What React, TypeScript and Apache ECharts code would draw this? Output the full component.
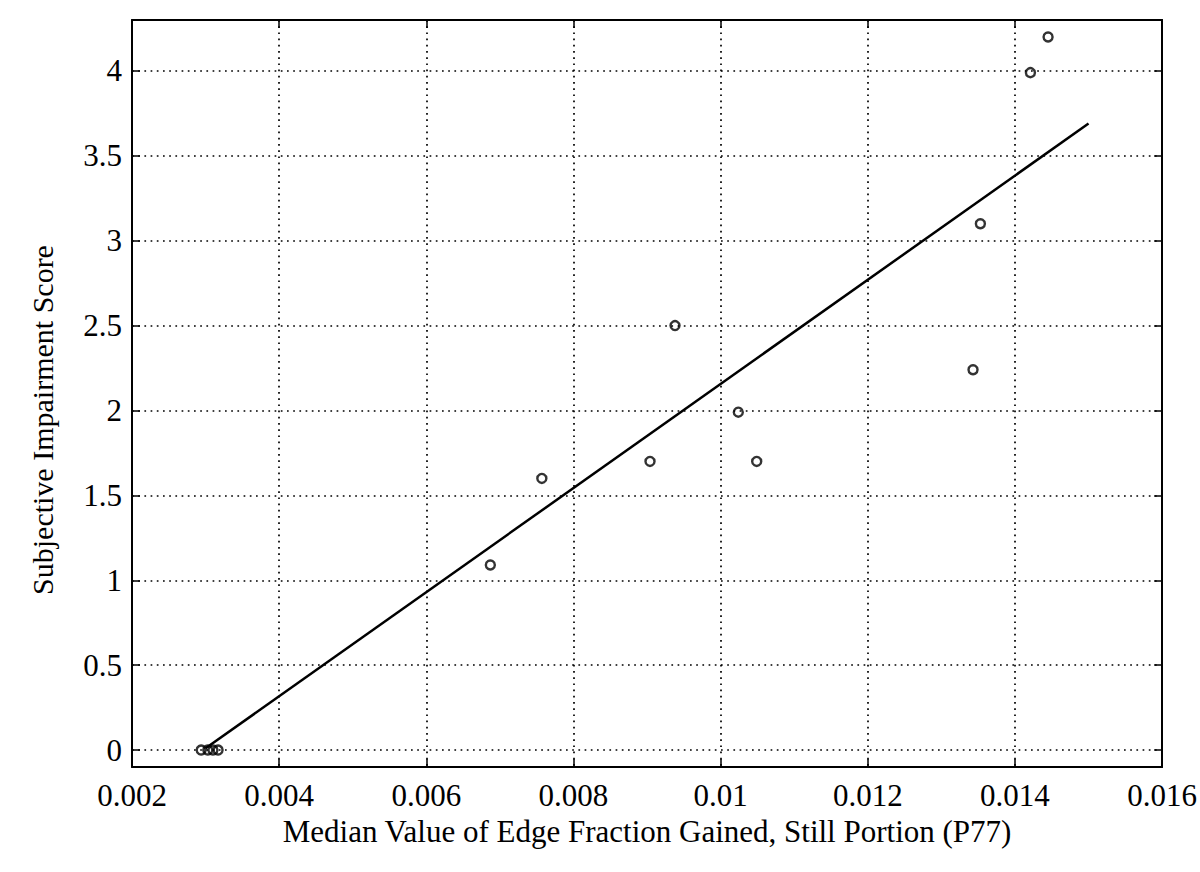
import React, { useEffect, useRef } from "react";
import * as echarts from "echarts";

const xTitle = "Median Value of Edge Fraction Gained, Still Portion (P77)";
const yTitle = "Subjective Impairment Score";

const pointX = [0.00294, 0.00303, 0.0031, 0.00317, 0.00687, 0.00757, 0.00904, 0.00938, 0.01024, 0.01049, 0.01343, 0.01353, 0.01421, 0.01445];
const pointY = [0, 0, 0, 0, 1.09, 1.6, 1.7, 2.5, 1.99, 1.7, 2.24, 3.1, 3.99, 4.2];

const fitX = [0.003, 0.015];
const fitY = [0.01, 3.69];

const xMin = 0.002;
const xMax = 0.016;
const xStep = 0.002;
const yMin = -0.1;
const yMax = 4.3;

const FONT = "'Liberation Serif', 'DejaVu Serif', serif";

export default function App() {
  const ref = useRef<HTMLDivElement>(null);
  useEffect(() => {
    if (!ref.current) return;
    const chart = echarts.init(ref.current, null, { renderer: "svg" });
    const black = "#000";
    const baseX = {
      type: "value",
      min: xMin,
      max: xMax,
      interval: xStep,
    };
    const baseY = {
      type: "value",
      min: yMin,
      max: yMax,
      splitNumber: 9,
    };
    chart.setOption({
      animation: false,
      backgroundColor: "#fff",
      grid: { left: 132, right: 33, top: 20, bottom: 105, containLabel: false },
      xAxis: [
        {
          ...baseX,
          position: "bottom",
          name: xTitle,
          nameLocation: "middle",
          nameGap: 45,
          nameTextStyle: { fontFamily: FONT, fontSize: 31, color: black },
          axisLine: { show: true, onZero: false, lineStyle: { color: black, width: 2 } },
          axisTick: { show: true, inside: true, length: 8, lineStyle: { color: black, width: 1.5 } },
          axisLabel: {
            show: true,
            margin: 13,
            fontFamily: FONT,
            fontSize: 31,
            color: black,
            formatter: (v: number) => String(parseFloat(v.toFixed(4))),
          },
          splitLine: { show: true, lineStyle: { color: black, width: 1.7, type: [1.7, 4.5] } },
        },
        {
          ...baseX,
          position: "top",
          axisLine: { show: true, onZero: false, lineStyle: { color: black, width: 2 } },
          axisTick: { show: true, inside: true, length: 8, lineStyle: { color: black, width: 1.5 } },
          axisLabel: { show: false },
          splitLine: { show: false },
        },
      ],
      yAxis: [
        {
          ...baseY,
          position: "left",
          axisLine: { show: true, onZero: false, lineStyle: { color: black, width: 2 } },
          axisTick: { show: true, inside: true, length: 8, lineStyle: { color: black, width: 1.5 } },
          axisLabel: {
            show: true,
            margin: 10,
            fontFamily: FONT,
            fontSize: 31,
            color: black,
            showMinLabel: false,
            showMaxLabel: false,
            formatter: (v: number) => String(parseFloat(v.toFixed(2))),
          },
          splitLine: { show: true, lineStyle: { color: black, width: 1.7, type: [1.7, 4.5] } },
        },
        {
          ...baseY,
          position: "right",
          axisLine: { show: true, onZero: false, lineStyle: { color: black, width: 2 } },
          axisTick: { show: true, inside: true, length: 8, lineStyle: { color: black, width: 1.5 } },
          axisLabel: { show: false },
          splitLine: { show: false },
        },
      ],
      graphic: [
        {
          type: "text",
          x: 42,
          y: 420,
          rotation: Math.PI / 2,
          style: {
            text: yTitle,
            fontFamily: FONT,
            fontSize: 30,
            fill: black,
            align: "center",
            verticalAlign: "middle",
          },
        },
      ],
      series: [
        {
          type: "line",
          xAxisIndex: 0,
          yAxisIndex: 0,
          data: fitX.map((x, i) => [x, fitY[i]]),
          showSymbol: false,
          symbol: "none",
          lineStyle: { color: black, width: 2.5 },
          z: 3,
        },
        {
          type: "scatter",
          xAxisIndex: 0,
          yAxisIndex: 0,
          data: pointX.map((x, i) => [x, pointY[i]]),
          symbol: "circle",
          symbolSize: 9,
          itemStyle: { color: "rgba(0,0,0,0)", borderColor: black, borderWidth: 2.4 },
          z: 4,
        },
      ],
    });
    return () => chart.dispose();
  }, []);
  return (
    <div
      ref={ref}
      style={{ position: "fixed", left: 0, top: 0, width: 1200, height: 872, background: "#fff" }}
    />
  );
}
